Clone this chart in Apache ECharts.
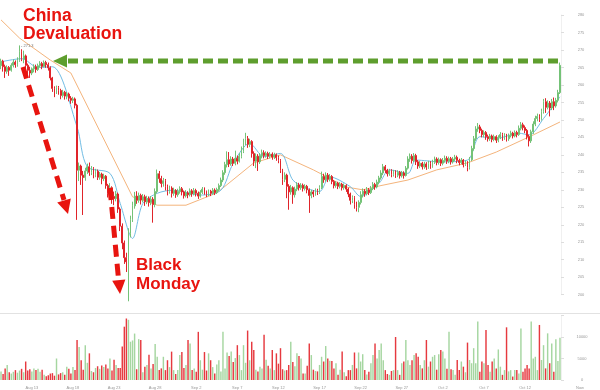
<!DOCTYPE html>
<html><head><meta charset="utf-8">
<script src="https://cdn.jsdelivr.net/npm/echarts@6/dist/echarts.min.js"></script>
<style>html,body{margin:0;padding:0;background:#fff}#c{width:600px;height:390px}</style>
</head><body><div id="c"></div>
<script>
// x-axis tick labels (category index of each label)
const tickIndex = [15, 35, 55, 75, 95, 115, 135, 155, 175, 195, 215, 235, 255];
const tickLabels = ['Aug 13','Aug 18','Aug 23','Aug 28','Sep 2','Sep 7','Sep 12','Sep 17','Sep 22','Sep 27','Oct 2','Oct 7','Oct 12'];

// candles: [open, close, low, high] (6h bars)
const candles = [
[265.5,266.8,264.5,267.5],[266.8,265.2,263.8,267.2],[265.2,263.9,262.0,265.8],[263.9,265.0,263.2,265.6],
[265.0,264.2,262.6,265.4],[264.2,265.6,263.8,266.2],[265.6,266.5,265.0,267.3],[266.5,265.8,264.9,267.0],
[265.8,267.0,265.2,267.9],[267.0,269.6,266.6,271.3],[269.6,267.4,266.8,270.2],[267.4,268.3,266.2,269.8],
[268.3,265.6,264.8,268.7],[265.6,264.2,262.9,266.1],[264.2,263.4,262.0,265.2],[263.4,264.6,262.8,265.0],
[264.6,265.2,263.6,265.9],[265.2,264.4,263.5,265.8],[264.4,265.5,264.0,266.1],[265.5,266.1,265.0,266.8],
[266.1,265.3,264.5,266.6],[265.3,266.4,265.0,267.0],[266.4,265.8,264.9,266.9],[265.8,264.9,264.1,266.4],
[264.9,262.0,261.3,265.3],[262.0,259.0,258.0,262.3],[259.0,258.3,256.5,259.6],[258.3,259.2,257.4,259.8],
[259.2,258.4,257.2,259.7],[258.4,257.0,255.9,258.9],[257.0,257.9,256.4,258.6],[257.9,256.8,255.8,258.3],
[256.8,257.4,255.9,258.0],[257.4,256.2,255.3,257.8],[256.2,255.6,254.6,256.8],[255.6,256.0,254.8,256.6],
[256.0,254.2,253.3,256.4],[254.2,235.6,221.4,254.6],[235.6,236.8,232.5,237.8],[236.8,234.2,231.4,237.2],
[234.2,233.5,222.8,235.4],[233.5,235.4,232.6,236.3],[235.4,236.6,234.5,237.5],[236.6,235.0,234.0,237.8],
[235.0,236.0,234.2,236.8],[236.0,234.5,233.3,236.5],[234.5,235.3,233.6,236.0],[235.3,233.6,232.8,235.8],
[233.6,234.5,232.9,235.1],[234.5,233.2,231.6,234.9],[233.2,233.9,232.5,234.6],[233.9,231.2,230.3,234.2],
[231.2,229.0,227.8,231.7],[229.0,230.6,228.4,231.9],[230.6,228.1,226.0,231.0],[228.1,227.5,225.6,229.5],
[227.5,228.8,226.7,229.7],[228.8,224.5,223.4,229.2],[224.5,219.6,218.2,225.0],[219.6,214.8,213.0,220.4],
[214.8,210.6,208.8,215.5],[210.6,209.4,206.5,212.0],[209.4,217.6,198.12,219.0],[217.6,221.5,216.4,222.6],
[221.5,225.4,220.8,226.6],[225.4,228.2,224.6,229.4],[228.2,227.0,226.0,229.6],[227.0,228.4,226.3,229.2],
[228.4,227.1,225.8,228.9],[227.1,228.0,226.4,228.8],[228.0,226.6,225.4,228.6],[226.6,227.5,225.9,228.3],
[227.5,226.4,225.2,228.1],[226.4,227.3,225.6,228.2],[227.3,225.8,220.6,227.9],[225.8,229.5,225.0,230.4],
[229.5,234.6,229.0,235.8],[234.6,233.2,232.0,235.4],[233.2,231.8,230.7,234.0],[231.8,232.6,230.9,233.4],
[232.6,231.0,229.8,233.1],[231.0,229.6,228.4,231.5],[229.6,230.5,228.9,231.2],[230.5,229.0,227.8,231.0],
[229.0,229.8,228.3,230.6],[229.8,228.6,227.7,230.2],[228.6,229.5,228.0,230.3],[229.5,230.3,228.9,231.0],
[230.3,229.4,228.4,230.8],[229.4,228.3,227.5,229.8],[228.3,229.1,227.8,229.9],[229.1,228.6,227.6,229.6],
[228.6,229.7,228.1,230.4],[229.7,228.9,228.0,230.2],[228.9,229.8,228.4,230.5],[229.8,229.0,228.1,230.3],
[229.0,228.2,227.4,229.5],[228.2,229.3,227.8,229.9],[229.3,230.2,228.8,230.8],[230.2,229.4,228.6,230.7],
[229.4,228.7,227.9,229.8],[228.7,229.6,228.2,230.1],[229.6,229.0,228.2,230.0],[229.0,229.9,228.6,230.5],
[229.9,229.2,228.5,230.4],[229.2,230.1,228.8,230.6],[230.1,231.2,229.6,231.8],[231.2,232.8,230.8,233.5],
[232.8,234.9,232.2,235.6],[234.9,237.2,234.3,238.0],[237.2,238.6,236.4,241.0],[238.6,237.4,236.5,240.8],
[237.4,238.8,236.9,239.6],[238.8,237.6,236.8,239.4],[237.6,239.0,237.0,241.2],[239.0,238.2,237.3,239.8],
[238.2,239.6,237.8,240.5],[239.6,241.0,239.0,242.4],[241.0,243.4,240.5,244.6],[243.4,244.6,242.8,246.3],
[244.6,243.0,242.0,245.4],[243.0,243.8,242.2,244.6],[243.8,240.4,239.2,244.2],[240.4,238.2,236.8,241.0],
[238.2,239.6,236.2,240.4],[239.6,238.0,235.4,240.2],[238.0,239.8,237.4,240.5],[239.8,240.6,239.0,241.5],
[240.6,239.8,239.0,241.3],[239.8,240.4,239.2,241.0],[240.4,239.6,238.8,240.9],[239.6,240.2,239.0,240.8],
[240.2,239.4,238.6,240.7],[239.4,240.0,238.8,240.6],[240.0,239.2,238.3,240.4],[239.2,238.4,237.6,239.8],
[238.4,235.6,234.8,238.8],[235.6,233.0,231.4,236.0],[233.0,234.2,232.2,235.0],[234.2,231.0,227.6,234.6],
[231.0,229.4,224.3,231.6],[229.4,230.6,228.6,231.4],[230.6,228.6,226.0,231.0],[228.6,230.2,227.8,230.9],
[230.2,231.4,229.6,232.2],[231.4,230.6,229.8,232.0],[230.6,231.3,230.0,231.9],[231.3,230.4,229.5,231.8],
[230.4,231.0,229.8,231.6],[231.0,230.0,229.0,231.4],[230.0,228.4,223.4,230.4],[228.4,229.4,227.6,230.0],
[229.4,228.8,227.9,229.9],[228.8,229.8,228.3,230.4],[229.8,229.2,228.5,230.3],[229.2,230.6,228.8,231.3],
[230.6,233.8,230.2,235.2],[233.8,232.9,232.0,234.6],[232.9,234.2,232.3,235.0],[234.2,233.0,232.2,234.8],
[233.0,233.8,232.4,234.5],[233.8,232.4,231.6,234.2],[232.4,231.2,230.4,232.8],[231.2,231.9,230.6,232.5],
[231.9,231.0,230.2,232.3],[231.0,231.6,230.4,232.2],[231.6,230.6,229.8,232.0],[230.6,231.2,230.0,231.8],
[231.2,230.2,229.4,231.6],[230.2,228.8,227.9,230.6],[228.8,227.0,225.8,229.2],[227.0,227.8,226.2,228.4],
[227.8,225.9,224.6,228.2],[225.9,225.0,223.8,226.6],[225.0,226.4,223.6,227.0],[226.4,228.6,225.8,229.6],
[228.6,229.6,227.8,230.4],[229.6,228.9,228.0,230.2],[228.9,230.0,228.4,230.8],[230.0,229.2,228.5,230.5],
[229.2,230.4,228.8,231.1],[230.4,231.5,229.9,232.2],[231.5,230.8,230.0,232.0],[230.8,232.2,230.4,232.9],
[232.2,233.4,231.6,234.0],[233.4,234.8,232.9,235.6],[234.8,236.6,234.2,237.4],[236.6,235.6,234.8,237.1],
[235.6,234.6,233.8,236.0],[234.6,235.4,234.0,236.0],[235.4,234.4,233.6,235.9],[234.4,235.1,233.8,235.7],
[235.1,234.2,233.4,235.6],[234.2,235.0,233.6,235.6],[235.0,234.0,233.2,235.4],[234.0,234.8,233.5,235.4],
[234.8,234.1,233.2,235.3],[234.1,236.2,233.8,236.8],[236.2,238.8,235.8,239.6],[238.8,239.6,238.0,240.4],
[239.6,238.4,237.5,240.2],[238.4,239.8,237.9,240.5],[239.8,238.0,237.1,240.3],[238.0,236.8,236.0,238.5],
[236.8,237.6,236.2,238.2],[237.6,236.6,235.8,238.0],[236.6,237.4,236.0,238.0],[237.4,236.5,235.7,237.9],
[236.5,237.5,236.0,238.3],[237.5,236.8,236.0,238.2],[236.8,237.9,236.3,238.6],[237.9,238.8,237.4,239.5],
[238.8,237.8,237.0,239.3],[237.8,238.6,237.2,239.2],[238.6,237.6,236.8,239.0],[237.6,238.4,237.0,239.1],
[238.4,239.0,237.8,239.8],[239.0,238.2,237.4,239.6],[238.2,238.9,237.6,239.5],[238.9,238.0,237.2,239.4],
[238.0,238.8,237.5,239.4],[238.8,239.3,238.2,240.0],[239.3,238.4,237.6,239.8],[238.4,237.8,237.0,238.9],
[237.8,238.5,237.3,239.1],[238.5,237.2,236.4,238.8],[237.2,237.9,236.8,238.4],[237.9,236.4,235.3,238.2],
[236.4,238.6,235.8,239.4],[238.6,241.8,238.2,242.6],[241.8,244.6,241.2,245.4],[244.6,247.4,244.0,248.2],
[247.4,248.0,246.6,249.1],[248.0,247.0,246.2,248.6],[247.0,245.8,245.0,247.5],[245.8,246.4,245.0,247.0],
[246.4,245.2,244.3,246.8],[245.2,244.6,243.8,245.8],[244.6,245.4,244.0,246.0],[245.4,244.4,243.6,245.8],
[244.4,245.2,243.9,245.8],[245.2,244.2,243.4,245.6],[244.2,245.0,243.6,245.6],[245.0,245.8,244.5,246.5],
[245.8,244.9,244.0,246.3],[244.9,245.6,244.3,246.2],[245.6,244.6,243.8,246.0],[244.6,245.5,244.0,246.1],
[245.5,246.2,245.0,246.9],[246.2,245.4,244.7,246.6],[245.4,246.4,245.0,247.0],[246.4,245.8,245.0,246.9],
[245.8,247.6,245.4,248.4],[247.6,248.6,247.0,249.4],[248.6,247.8,247.0,249.2],[247.8,247.0,246.2,248.4],
[247.0,245.2,244.4,247.4],[245.2,244.0,242.4,245.8],[244.0,246.6,243.4,247.2],[246.6,248.8,246.0,249.6],
[248.8,250.4,248.2,251.2],[250.4,251.0,249.6,251.8],[251.0,250.2,249.4,251.6],[250.2,252.4,249.8,253.2],
[252.4,255.2,251.8,256.0],[255.2,253.6,252.0,256.2],[253.6,254.8,253.0,255.6],[254.8,253.4,251.0,255.4],
[253.4,255.2,252.8,256.0],[255.2,254.0,252.8,256.4],[254.0,255.6,253.5,256.3],[255.6,257.8,255.0,258.6],
[257.8,265.6,257.4,266.4]
];

const volumes = [
2000,1400,2700,3500,1800,1500,1900,2300,1700,2200,
2600,1800,4300,2200,2500,2000,2700,2300,2600,1900,
2400,1200,900,1100,1500,1600,1000,5000,1300,1600,
1800,1200,3100,2600,1500,3000,2300,9300,7700,4600,
2400,8100,4000,6200,2100,1800,2800,3200,2600,3400,
3000,3600,2700,5000,2200,4700,3500,2800,2800,7800,
12400,14300,14000,8900,9200,10800,2500,9500,9300,1800,
3100,3500,5900,2700,3700,8400,5400,2300,2700,5400,
2300,4600,3000,6600,2300,1400,2300,5800,6500,2800,
3500,9300,8500,2300,2700,1900,11200,4600,2400,6500,
2200,6200,4600,3000,1500,3600,4600,2000,11200,2700,
6400,5600,6600,4200,5100,8100,5800,2300,8100,4000,
11500,4600,8900,7000,2400,2000,3100,2700,10500,4700,
3300,2700,7000,2300,6200,3800,7400,2500,2200,2300,
3500,8900,4200,3200,6200,5600,5000,1500,1500,3300,
8500,5800,2400,2100,2000,3500,5400,4300,7900,5000,
4500,4400,2700,3900,1200,2400,6600,1800,900,2300,
2300,3500,6400,2700,6400,4300,6000,2300,1300,1900,
3900,5800,8500,5000,7000,8500,4600,2300,1400,1200,
2100,2300,10000,2300,1200,3900,4300,9300,4600,3500,
4600,5800,6200,5400,3500,2700,4600,9300,3100,4300,
5400,5800,2400,6000,7000,6600,5000,2600,11200,2500,
2300,1200,4650,2300,4300,3100,1800,8700,4650,3900,
7400,3900,13600,1900,4300,3900,11600,3500,1900,4300,
5000,2700,7100,3100,1200,2300,12250,2000,2300,800,
2300,2300,1500,12000,1900,2700,3500,2700,13600,5000,
5400,2300,12800,4650,8100,2700,10850,3900,8500,1900,
9500,4400,9800
];

// moving averages: [candle index, value]
const maFast = [[0,266.6],[10,267.5],[18,265.0],[25,265.2],[37,248.0],[42,236.6],[53,234.7],[58,226.1],[64,216.1],
[69,226.1],[76,229.0],[84,229.9],[97,228.5],[107,229.9],[113,237.6],[121,243.3],[128,239.5],[136,240.4],
[142,232.8],[149,230.4],[155,229.5],[160,233.7],[170,230.9],[175,228.1],[184,231.9],[189,235.7],[198,234.7],
[202,238.5],[214,238.0],[227,238.5],[233,245.2],[241,244.7],[252,246.2],[257,245.7],[264,250.4],[272,256.6]];
const maSlow = [[0,278.6],[9,273.4],[24,267.1],[34,263.4],[64,228.0],[76,225.6],[90,225.6],[105,229.1],
[123,237.7],[136,240.0],[152,235.7],[168,230.8],[176,230.0],[184,231.1],[198,232.8],[212,235.7],
[227,237.7],[241,240.8],[259,245.7],[272,249.4]];

const highPoint = [9, 271.3];
const lowPoint = [62, 198.12];

const UP = '#74c277', DOWN = '#e0242a';
const VUP = '#a5d6a0', VDOWN = '#e6393f';
const RED = '#e8140f', GREEN = '#5e9e2e';
const AX = {fontSize: 4, color: '#999', fontFamily: 'Liberation Sans, Arial, sans-serif'};

const categories = candles.map((_, i) => String(i));
const tickMap = {};
tickIndex.forEach((t, k) => tickMap[t] = tickLabels[k]);

const chart = echarts.init(document.getElementById('c'), null, {renderer: 'canvas'});
chart.setOption({
  animation: false,
  backgroundColor: '#fff',
  grid: [
    {left: 0, right: 39, top: 15, bottom: 95.3},
    {left: 0, right: 39, top: 315.5, bottom: 10}
  ],
  xAxis: [
    {type: 'category', gridIndex: 0, data: categories, boundaryGap: true,
     axisLine: {show: false}, axisTick: {show: false}, axisLabel: {show: false}, splitLine: {show: false}},
    {type: 'category', gridIndex: 1, data: categories, boundaryGap: true,
     axisLine: {show: false}, axisTick: {show: false}, splitLine: {show: false},
     axisLabel: Object.assign({}, AX, {margin: 5.5, interval: (i) => tickMap[i] !== undefined,
       formatter: (v, i) => tickMap[i] || ''})}
  ],
  yAxis: [
    {type: 'value', gridIndex: 0, position: 'right', min: 200, max: 280, interval: 5, scale: true,
     axisLine: {show: true, lineStyle: {color: '#f0f0f0'}},
     axisTick: {show: true, length: 3, lineStyle: {color: '#ddd'}},
     splitLine: {show: false},
     axisLabel: Object.assign({}, AX, {margin: 20, align: 'center'})},
    {type: 'value', gridIndex: 1, position: 'right', min: 0, max: 15000, interval: 5000,
     axisLine: {show: true, lineStyle: {color: '#f0f0f0'}},
     axisTick: {show: true, length: 3, lineStyle: {color: '#ddd'}},
     splitLine: {show: false},
     axisLabel: Object.assign({}, AX, {margin: 21, align: 'center', formatter: (v) => v >= 15000 ? '' : String(v)})}
  ],
  series: [
    {type: 'candlestick', xAxisIndex: 0, yAxisIndex: 0, data: candles, clip: false, barWidth: '65%',
     itemStyle: {color: UP, color0: DOWN, borderColor: UP, borderColor0: DOWN, borderWidth: 1},
     markPoint: {
       symbol: 'circle', symbolSize: 1, itemStyle: {color: 'rgba(0,0,0,0)'},
       label: {show: true, position: 'right', distance: 1, fontSize: 4, color: '#777', fontFamily: 'Liberation Sans, Arial, sans-serif'},
       data: [
         {coord: highPoint, value: highPoint[1], label: {formatter: '- ' + highPoint[1]}},
         {coord: lowPoint, value: lowPoint[1], label: {formatter: '- ' + lowPoint[1]}}
       ]
     }},
    {type: 'line', xAxisIndex: 0, yAxisIndex: 0, data: maSlow, showSymbol: false, symbol: 'none',
     lineStyle: {color: '#f4b47c', width: 1}, z: 1},
    {type: 'line', xAxisIndex: 0, yAxisIndex: 0, data: maFast, showSymbol: false, symbol: 'none', smooth: 0.3,
     lineStyle: {color: '#72bde4', width: 1}, z: 1},
    {type: 'bar', xAxisIndex: 1, yAxisIndex: 1, barWidth: '70%',
     data: volumes.map((v, i) => ({value: v, itemStyle: {color: candles[i][1] >= candles[i][0] ? VUP : VDOWN}}))}
  ],
  graphic: [
    {type: 'line', shape: {x1: 0, y1: 313.5, x2: 600, y2: 313.5}, style: {stroke: '#e2e2e2', lineWidth: 1}, silent: true},
    {type: 'text', style: {x: 580, y: 387.5, text: 'Now', fontSize: 4, fill: '#999', align: 'center', verticalAlign: 'middle', fontFamily: 'Liberation Sans, Arial, sans-serif'}},
    // red arrow 1
    {type: 'line', shape: {x1: 23, y1: 67, x2: 64, y2: 200}, style: {stroke: RED, lineWidth: 5, lineDash: [12, 7]}, z: 100},
    {type: 'polygon', shape: {points: [[68, 214], [70.8, 198.4], [57.2, 202.6]]}, style: {fill: RED}, z: 100},
    // red arrow 2
    {type: 'line', shape: {x1: 110, y1: 188, x2: 118.7, y2: 281}, style: {stroke: RED, lineWidth: 5, lineDash: [12, 7]}, z: 100},
    {type: 'polygon', shape: {points: [[120, 294], [125.4, 279.5], [112.2, 280.7]]}, style: {fill: RED}, z: 100},
    // green arrow
    {type: 'line', shape: {x1: 68, y1: 61, x2: 558, y2: 61}, style: {stroke: GREEN, lineWidth: 5, lineDash: [10, 5]}, z: 100},
    {type: 'polygon', shape: {points: [[53, 61], [67, 54.5], [67, 67.5]]}, style: {fill: GREEN}, z: 100},
    // annotation texts
    {type: 'text', z: 101, style: {x: 23, y: 16, text: 'China', fill: RED, font: 'bold 17.5px "Liberation Sans", Arial, sans-serif', verticalAlign: 'middle'}},
    {type: 'text', z: 101, style: {x: 23, y: 33.7, text: 'Devaluation', fill: RED, font: 'bold 17.5px "Liberation Sans", Arial, sans-serif', verticalAlign: 'middle'}},
    {type: 'text', z: 101, style: {x: 136, y: 265.5, text: 'Black', fill: RED, font: 'bold 17px "Liberation Sans", Arial, sans-serif', verticalAlign: 'middle'}},
    {type: 'text', z: 101, style: {x: 136, y: 284, text: 'Monday', fill: RED, font: 'bold 17px "Liberation Sans", Arial, sans-serif', verticalAlign: 'middle'}}
  ]
});
</script>
</body></html>
